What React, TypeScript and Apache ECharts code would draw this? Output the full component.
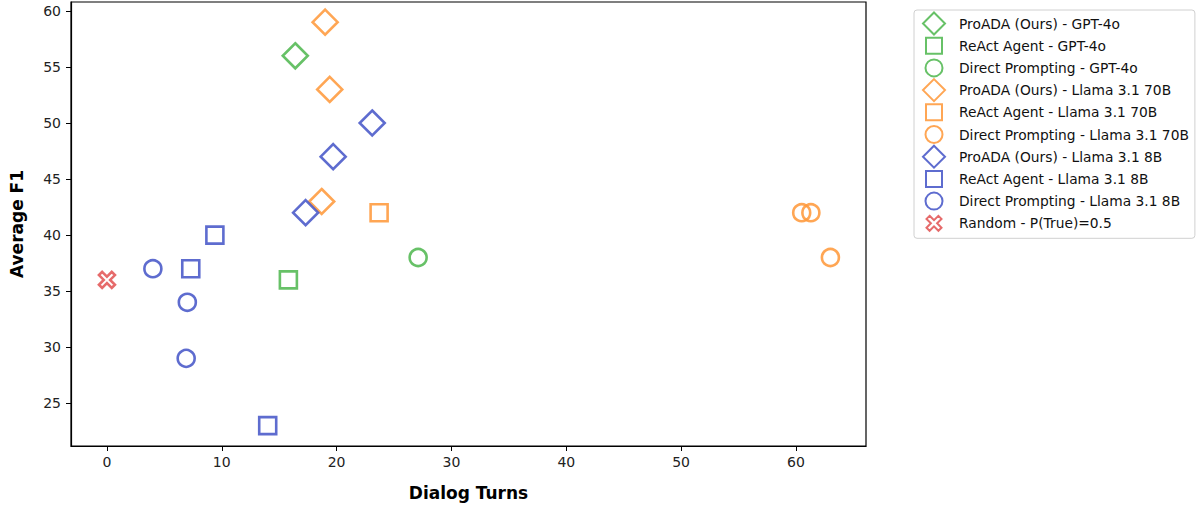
import React, { useEffect, useRef } from "react";
import * as echarts from "echarts";

const GREEN = "#52b852";
const ORANGE = "#ff9a3c";
const BLUE = "#4858c8";
const RED = "#e25656";

const seriesNames = [
  "ProADA (Ours) - GPT-4o",
  "ReAct Agent - GPT-4o",
  "Direct Prompting - GPT-4o",
  "ProADA (Ours) - Llama 3.1 70B",
  "ReAct Agent - Llama 3.1 70B",
  "Direct Prompting - Llama 3.1 70B",
  "ProADA (Ours) - Llama 3.1 8B",
  "ReAct Agent - Llama 3.1 8B",
  "Direct Prompting - Llama 3.1 8B",
  "Random - P(True)=0.5",
];

const proadaGpt4o = [[16.4, 56]];
const reactGpt4o = [[15.8, 36]];
const directGpt4o = [[27.1, 38]];
const proada70b = [[19.0, 59], [19.4, 53], [18.7, 43]];
const react70b = [[23.7, 42]];
const direct70b = [[60.5, 42], [61.3, 42], [63.0, 38]];
const proada8b = [[23.1, 50], [19.7, 47], [17.3, 42]];
const react8b = [[9.4, 40], [7.3, 37], [14.0, 23]];
const direct8b = [[4.0, 37], [7.0, 34], [6.9, 29]];
const randomBaseline = [[0, 36]];

const xTicks = [0, 10, 20, 30, 40, 50, 60];
const yTicks = [25, 30, 35, 40, 45, 50, 55, 60];

const X_PATH =
  "path://M2,0 L5,3 L8,0 L10,2 L7,5 L10,8 L8,10 L5,7 L2,10 L0,8 L3,5 L0,2 Z";

// legend icons drawn inside a 22x22 frame (frame corners set by lone moves)
const FRAME = "M0,0 M22,22 ";
const LEG_DIAMOND = "path://M11,0 L22,11 L11,22 L0,11 Z";
const LEG_RECT = "path://" + FRAME + "M3,3 L19,3 L19,19 L3,19 Z";
const LEG_CIRCLE = "path://" + FRAME + "M2.5,11 A8.5,8.5 0 1,1 19.5,11 A8.5,8.5 0 1,1 2.5,11 Z";
const LEG_X =
  "path://" + FRAME +
  "M6.6,3.5 L11,7.9 L15.4,3.5 L18.5,6.6 L14.1,11 L18.5,15.4 L15.4,18.5 L11,14.1 L6.6,18.5 L3.5,15.4 L7.9,11 L3.5,6.6 Z";

export default function App() {
  const ref = useRef<HTMLDivElement>(null);
  useEffect(() => {
    const chart = echarts.init(ref.current!, null, { renderer: "svg" });
    const mk = (
      name: string,
      data: number[][],
      color: string,
      symbol: string,
      size: number
    ) => ({
      name,
      type: "scatter",
      data,
      symbol,
      symbolSize: size,
      itemStyle: { color: "rgba(255,255,255,0)", borderColor: color, borderWidth: 2.6, opacity: 0.88 },
    });
    const datasets = [
      [proadaGpt4o, GREEN, "diamond", 25, LEG_DIAMOND],
      [reactGpt4o, GREEN, "rect", 17, LEG_RECT],
      [directGpt4o, GREEN, "circle", 17, LEG_CIRCLE],
      [proada70b, ORANGE, "diamond", 25, LEG_DIAMOND],
      [react70b, ORANGE, "rect", 17, LEG_RECT],
      [direct70b, ORANGE, "circle", 17, LEG_CIRCLE],
      [proada8b, BLUE, "diamond", 25, LEG_DIAMOND],
      [react8b, BLUE, "rect", 17, LEG_RECT],
      [direct8b, BLUE, "circle", 17, LEG_CIRCLE],
      [randomBaseline, RED, X_PATH, 16, LEG_X],
    ] as const;
    const series = datasets.map((d, i) =>
      mk(seriesNames[i], d[0] as any, d[1], d[2], d[3])
    );
    chart.setOption({
      animation: false,
      textStyle: { fontFamily: "DejaVu Sans" },
      grid: {
        left: 70,
        right: 332,
        top: 2,
        bottom: 58,
        show: true,
        borderColor: "#000",
        borderWidth: 1.2,
        backgroundColor: "#fff",
      },
      xAxis: {
        type: "value",
        min: -3.13,
        max: 66.1,
        splitLine: { show: false },
        axisLine: { show: true, onZero: false, lineStyle: { color: "#000", width: 1.2 } },
        axisTick: { show: true, length: 5, lineStyle: { color: "#000" }, customValues: xTicks },
        axisLabel: { color: "#222", fontSize: 14, margin: 9, customValues: xTicks },
        name: "Dialog Turns",
        nameLocation: "middle",
        nameGap: 38,
        nameTextStyle: { fontSize: 17, fontWeight: "bold", color: "#000", fontFamily: "DejaVu Sans" },
      },
      yAxis: {
        type: "value",
        min: 21.18,
        max: 60.8,
        splitLine: { show: false },
        axisLine: { show: true, onZero: false, lineStyle: { color: "#000", width: 1.2 } },
        axisTick: { show: true, length: 5, lineStyle: { color: "#000" }, customValues: yTicks },
        axisLabel: { color: "#222", fontSize: 14, margin: 10, customValues: yTicks },
        name: "Average F1",
        nameLocation: "middle",
        nameGap: 46,
        nameTextStyle: { fontSize: 17, fontWeight: "bold", color: "#000", fontFamily: "DejaVu Sans" },
      },
      legend: {
        orient: "vertical",
        left: 914,
        top: 10,
        itemWidth: 22,
        itemHeight: 22,
        itemGap: -1.8,
        padding: [1.5, 6, 3, 8],
        borderColor: "#d0d0d0",
        borderWidth: 1,
        borderRadius: 3,
        textStyle: {
          fontSize: 13.8,
          lineHeight: 16,
          color: "#111",
          fontFamily: "DejaVu Sans",
          padding: [0, 0, 0, 9],
        },
        data: seriesNames.map((n, i) => ({ name: n, icon: datasets[i][4] })),
      },
      series,
    });
    return () => chart.dispose();
  }, []);
  return (
    <div
      ref={ref}
      style={{ position: "fixed", left: 0, top: 0, width: 1198, height: 506, background: "#fff" }}
    />
  );
}
